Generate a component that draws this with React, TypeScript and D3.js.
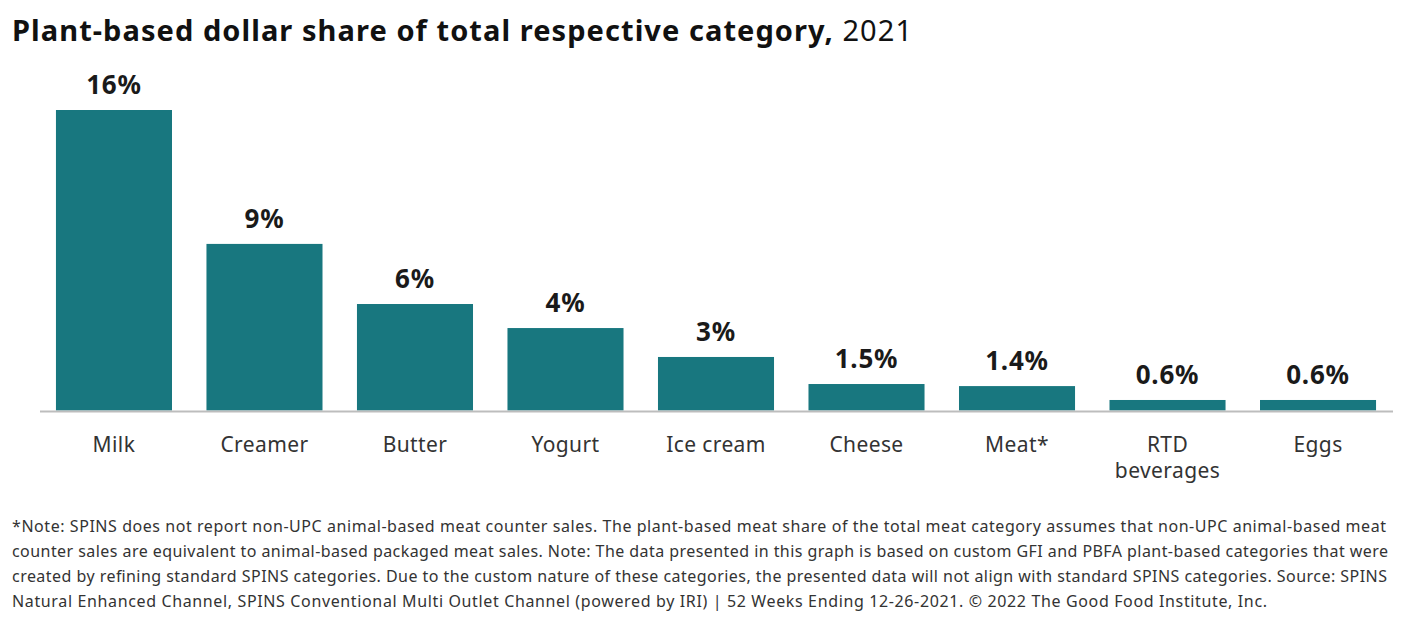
import React from "react";
import * as d3 from "d3";

const categories = ["Milk", "Creamer", "Butter", "Yogurt", "Ice cream", "Cheese", "Meat*", "RTD\nbeverages", "Eggs"];
const shareValues = [16, 8.87, 5.67, 4.39, 2.85, 1.41, 1.3, 0.56, 0.56];
const valueLabels = ["16%", "9%", "6%", "4%", "3%", "1.5%", "1.4%", "0.6%", "0.6%"];

const titleBold = "Plant-based dollar share of total respective category,";
const titleRegular = " 2021";

const footnoteLines = [
  "*Note: SPINS does not report non-UPC animal-based meat counter sales. The plant-based meat share of the total meat category assumes that non-UPC animal-based meat",
  "counter sales are equivalent to animal-based packaged meat sales. Note: The data presented in this graph is based on custom GFI and PBFA plant-based categories that were",
  "created by refining standard SPINS categories. Due to the custom nature of these categories, the presented data will not align with standard SPINS categories. Source: SPINS",
  "Natural Enhanced Channel, SPINS Conventional Multi Outlet Channel (powered by IRI) | 52 Weeks Ending 12-26-2021. © 2022 The Good Food Institute, Inc.",
];
const footnoteWidths = [1374, 1376, 1375, 1255];

const W = 1422;
const H = 635;
const FONT = "'Noto Sans', 'Open Sans', sans-serif";
const BAR = "#18777f";

export default function App() {
  const x = d3
    .scaleBand<string>()
    .domain(categories)
    .range([40, 1392])
    .paddingInner(0.229)
    .paddingOuter(0.106);
  const y = d3.scaleLinear().domain([0, 16]).range([410.5, 110]);

  return (
    <svg
      width={W}
      height={H}
      style={{ position: "absolute", left: 0, top: 0, background: "#fff" }}
    >
      <text
        x={12}
        y={41}
        fontFamily={FONT}
        fontSize={29}
        fill="#111"
        textLength={900}
        lengthAdjust="spacing"
      >
        <tspan fontWeight={700}>{titleBold}</tspan>
        <tspan fontWeight={400}>{titleRegular}</tspan>
      </text>

      {categories.map((c, i) => {
        const bx = x(c)!;
        const bw = x.bandwidth();
        const top = y(shareValues[i]);
        return (
          <g key={c}>
            <rect x={bx} y={top} width={bw} height={y(0) - top} fill={BAR} />
            <text
              x={bx + bw / 2}
              y={top - 16}
              textAnchor="middle"
              fontFamily={FONT}
              fontWeight={700}
              fontSize={26}
              letterSpacing={0.8}
              fill="#1a1a1a"
            >
              {valueLabels[i]}
            </text>
            {c.split("\n").map((line, j) => (
              <text
                key={j}
                x={bx + bw / 2}
                y={452 + j * 26}
                textAnchor="middle"
                fontFamily={FONT}
                fontSize={21}
                letterSpacing={0.4}
                fill="#333"
              >
                {line}
              </text>
            ))}
          </g>
        );
      })}

      <line x1={40} x2={1393} y1={y(0) + 1} y2={y(0) + 1} stroke="#bdbdbd" strokeWidth={2} />

      {footnoteLines.map((l, i) => (
        <text
          key={i}
          x={12}
          y={532 + i * 25}
          fontFamily={FONT}
          fontSize={16}
          fill="#333"
          textLength={footnoteWidths[i]}
          lengthAdjust="spacing"
        >
          {l}
        </text>
      ))}
    </svg>
  );
}
